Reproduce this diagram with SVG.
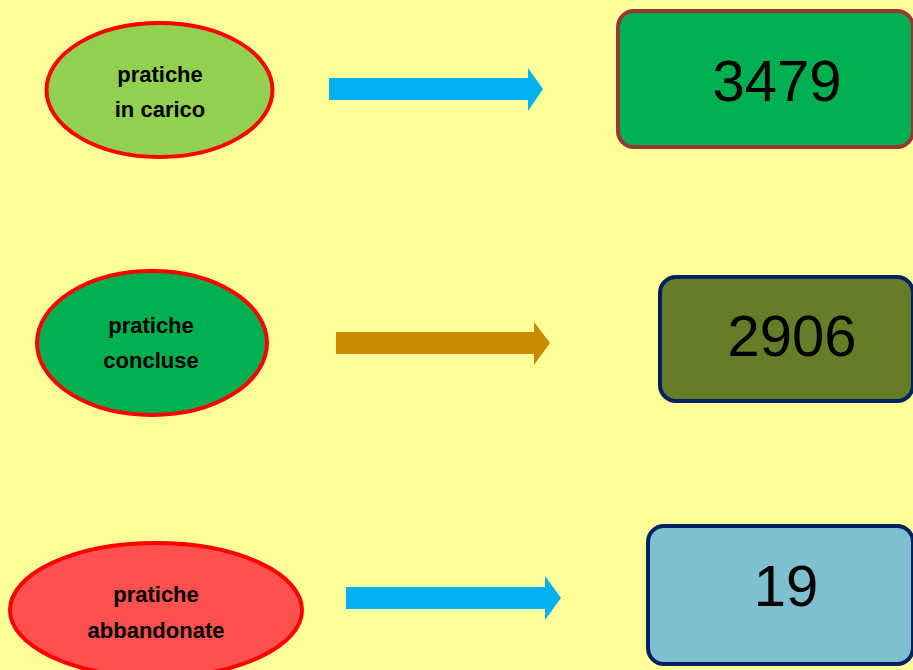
<svg xmlns="http://www.w3.org/2000/svg" width="913" height="670" viewBox="0 0 913 670">
<style>
.lbl{font-family:"Liberation Sans",Arial,sans-serif;font-weight:bold;font-size:22px;fill:#000;text-anchor:middle}
.num{font-family:"Liberation Sans",Arial,sans-serif;font-size:58px;fill:#000;text-anchor:middle}
.ell{stroke:#FF0000;stroke-width:4}
.box{stroke-width:4}
</style>
<rect x="0" y="0" width="913" height="670" fill="#FFFF99"/>
<g id="node-in-carico">
<ellipse class="ell" cx="159.5" cy="90" rx="113" ry="67" fill="#92D050"/>
<text class="lbl" x="160" y="82">pratiche</text>
<text class="lbl" x="160" y="117">in carico</text>
</g>
<g id="node-concluse">
<ellipse class="ell" cx="152" cy="343" rx="115" ry="72" fill="#00B050"/>
<text class="lbl" x="151" y="333">pratiche</text>
<text class="lbl" x="151" y="368">concluse</text>
</g>
<g id="node-abbandonate">
<ellipse class="ell" cx="156" cy="610" rx="146" ry="67" fill="#FF5050"/>
<text class="lbl" x="156" y="602">pratiche</text>
<text class="lbl" x="156" y="638">abbandonate</text>
</g>
<g id="value-3479">
<rect class="box" x="618" y="11" width="295" height="136" rx="16" fill="#00B050" stroke="#953735"/>
<text class="num" x="777" y="101">3479</text>
</g>
<g id="value-2906">
<rect class="box" x="660" y="277" width="253" height="124" rx="16" fill="#667D28" stroke="#002060"/>
<text class="num" x="792" y="356">2906</text>
</g>
<g id="value-19">
<rect class="box" x="648" y="526" width="265" height="138" rx="16" fill="#7EC0D0" stroke="#002060"/>
<text class="num" x="786" y="606">19</text>
</g>
<g id="connectors">
<polygon points="329,78 528,78 528,68 543,89 528,111 528,100 329,100" fill="#00B0F0"/>
<polygon points="336,332 534,332 534,322 550,343 534,365 534,354 336,354" fill="#C88A00"/>
<polygon points="346,587 545,587 545,576 561,598 545,620 545,609 346,609" fill="#00B0F0"/>
</g>
</svg>
